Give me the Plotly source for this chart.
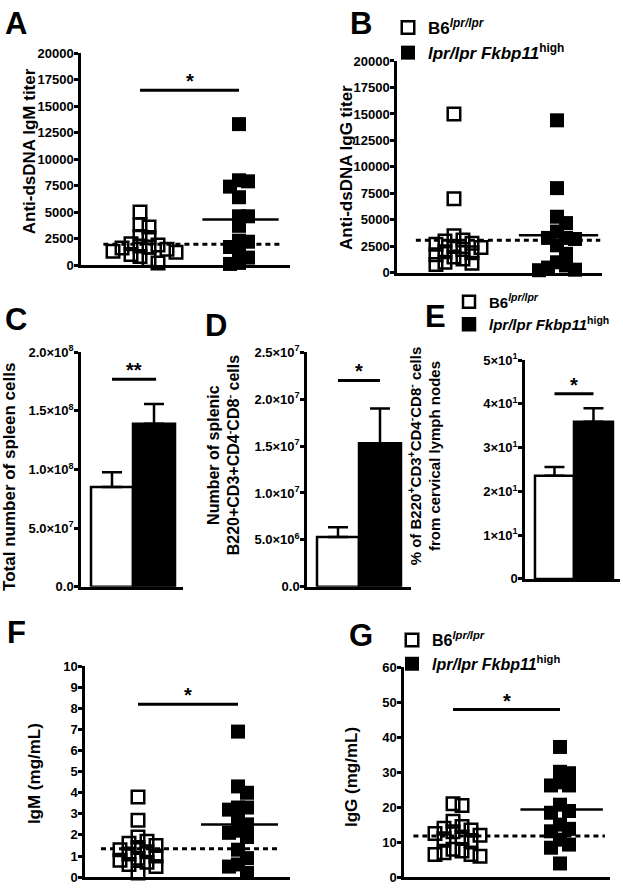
import numpy as np
import plotly.graph_objects as go

W, H = 623, 891
FONT = "Arial, Liberation Sans, sans-serif"

# ---------------- data ----------------
groups = ["B6<sup><i>lpr/lpr</i></sup>", "<i>lpr/lpr Fkbp11</i><sup>high</sup>"]

# A: anti-dsDNA IgM titer
igm_titer_b6 = [5000, 3800, 3600, 2700, 2600, 2000, 1900, 1800, 1700, 1600, 1500, 1300, 1200, 1000, 800, 500, 200]
igm_titer_fkbp = [13300, 8000, 7900, 7400, 6400, 4600, 4600, 3700, 2300, 2200, 1700, 1300, 700, 200, 100]
# B: anti-dsDNA IgG titer
igg_titer_b6 = [15000, 7000, 3500, 3100, 3000, 2800, 2700, 2500, 2400, 2200, 2000, 1900, 1700, 1500, 1300, 1000, 900, 800]
igg_titer_fkbp = [14400, 8000, 5300, 4700, 3900, 3300, 3300, 3200, 2600, 1800, 1000, 700, 500, 300, 250]
# C: total spleen cells (mean, SEM)
spleen_mean = [8.5e7, 1.39e8]
spleen_sem = [1.26e7, 1.7e7]
# D: splenic B220+CD3+CD4-CD8- cells
splenic_dn_mean = [5.3e6, 1.53e7]
splenic_dn_sem = [1.05e6, 3.7e6]
# E: % DN cells in cervical lymph nodes
lymph_dn_mean = [23.6, 35.9]
lymph_dn_sem = [2.0, 3.1]
# F: serum IgM (mg/mL)
igm_b6 = [3.8, 2.7, 1.9, 1.7, 1.6, 1.5, 1.4, 1.3, 1.2, 1.1, 1.0, 0.9, 0.8, 0.7, 0.6, 0.5, 0.2]
igm_fkbp = [6.9, 4.3, 4.0, 3.3, 3.2, 3.3, 2.7, 2.5, 2.2, 2.1, 1.9, 1.3, 0.9, 0.6, 0.5, 0.2]
# G: serum IgG (mg/mL)
igg_b6 = [21, 20.5, 16, 14.5, 14, 13.5, 13, 12.5, 12, 11.5, 11, 10.5, 8, 7.5, 7, 6.5, 6.5, 6]
igg_fkbp = [37.2, 30.1, 29.7, 27.1, 26.2, 26.2, 20.7, 18.9, 18.4, 15.0, 13.8, 13.1, 10.7, 9.3, 8.4, 3.9]

# tick labels
titer_ticks = [0, 2500, 5000, 7500, 10000, 12500, 15000, 17500, 20000]
titer_ticktext = [str(v) for v in titer_ticks]
spleen_ticks = [0, 5e7, 1e8, 1.5e8, 2e8]
spleen_ticktext = ["0.0", "5.0×10<sup>7</sup>", "1.0×10<sup>8</sup>", "1.5×10<sup>8</sup>", "2.0×10<sup>8</sup>"]
splenic_ticks = [0, 5e6, 1e7, 1.5e7, 2e7, 2.5e7]
splenic_ticktext = ["0.0", "5.0×10<sup>6</sup>", "1.0×10<sup>7</sup>", "1.5×10<sup>7</sup>",
                    "2.0×10<sup>7</sup>", "2.5×10<sup>7</sup>"]
lymph_ticks = [0, 10, 20, 30, 40, 50]
lymph_ticktext = ["0", "1×10<sup>1</sup>", "2×10<sup>1</sup>", "3×10<sup>1</sup>", "4×10<sup>1</sup>", "5×10<sup>1</sup>"]
igm_ticks = list(range(0, 11))
igm_ticktext = [str(v) for v in igm_ticks]
igg_ticks = [0, 10, 20, 30, 40, 50, 60]
igg_ticktext = [str(v) for v in igg_ticks]

# ---------------- layout geometry (pixels) ----------------
def xdom(a, b):
    return [a / W, b / W]

def ydom(top, bot):
    return [1 - bot / H, 1 - top / H]

fig = go.Figure()
BF = dict(family=FONT, color="black", weight="bold")


def refs(i):
    s = "" if i == 1 else str(i)
    return "x" + s, "y" + s, "xaxis" + s, "yaxis" + s


def swarm(vals, px_per_y, px_per_x, step=9.0):
    vals = np.asarray(vals, float)
    order = np.argsort(-vals, kind="stable")
    placed = []
    offs = np.zeros(len(vals))
    cands = [0]
    for j in range(1, 40):
        cands += [j, -j]
    for i in order:
        y = vals[i] * px_per_y
        for c in cands:
            x = c * step
            if all(abs(x - px) >= step or abs(y - py) >= step for px, py in placed):
                break
        placed.append((x, y))
        offs[i] = x / px_per_x
    return offs


def axes(i, xpx, ypx, xr, yr, tickvals, ticktext):
    xr_, yr_, xa, ya = refs(i)
    fig.layout[xa] = dict(domain=xdom(*xpx), range=xr, anchor=yr_, showline=True, linecolor="black",
                          linewidth=2.5, showgrid=False, zeroline=False, showticklabels=False,
                          ticks="", fixedrange=True)
    fig.layout[ya] = dict(domain=ydom(*ypx), range=yr, anchor=xr_, showline=True, linecolor="black",
                          linewidth=2.5, showgrid=False, zeroline=False, ticks="outside", ticklen=4,
                          tickwidth=2.5, tickcolor="black", tickvals=tickvals,
                          ticktext=["<b>%s</b>" % t for t in ticktext], ticklabelstandoff=-2,
                          tickfont=dict(size=13, **BF), fixedrange=True)


def sig(i, level, text, x0=0, x1=1):
    xr_, yr_, xa, ya = refs(i)
    fig.add_shape(type="line", xref=xr_, yref=yr_ + " domain", x0=x0, x1=x1, y0=level, y1=level,
                  line=dict(color="black", width=3))
    fig.add_annotation(xref=xr_, yref=yr_ + " domain", x=(x0 + x1) / 2, y=level, text=text,
                       showarrow=False, yanchor="bottom", yshift=-4, font=dict(size=20, **BF))


def dot_panel(i, b6, fk, xpx, ypx, xr, ymax, tickvals, ticktext, legend=None):
    xr_, yr_, xa, ya = refs(i)
    axes(i, xpx, ypx, xr, [0, ymax], tickvals, ticktext)
    ppy = (ypx[1] - ypx[0]) / ymax
    ppx = (xpx[1] - xpx[0]) / (xr[1] - xr[0])
    for k, (vals, sym, size, lw) in enumerate([(b6, "square-open", 12.5, 2.5), (fk, "square", 14, 0)]):
        off = swarm(vals, ppy, ppx)
        fig.add_trace(go.Scatter(
            x=k + off, y=vals, mode="markers", xaxis=xr_, yaxis=yr_, cliponaxis=False,
            name=groups[k], showlegend=legend is not None, legend=legend or "legend",
            marker=dict(symbol=sym, size=size, color="black", line=dict(width=lw, color="black"))))
    m0, m1 = float(np.mean(b6)), float(np.mean(fk))
    fig.add_trace(go.Scatter(x=[-0.37, 1.42], y=[m0, m0], mode="lines", xaxis=xr_, yaxis=yr_,
                             showlegend=False, cliponaxis=False,
                             line=dict(color="black", width=3, dash="5px,4px")))
    fig.add_trace(go.Scatter(x=[0.63, 1.40], y=[m1, m1], mode="lines", xaxis=xr_, yaxis=yr_,
                             showlegend=False, cliponaxis=False, line=dict(color="black", width=2.5)))


def bar_panel(i, means, sems, xpx, ypx, xr, ymax, tickvals, ticktext, legend=None):
    xr_, yr_, xa, ya = refs(i)
    axes(i, xpx, ypx, xr, [0, ymax], tickvals, ticktext)
    for k, col in enumerate(["white", "black"]):
        fig.add_trace(go.Bar(
            x=[k], y=[means[k]], width=1, xaxis=xr_, yaxis=yr_, name=groups[k],
            showlegend=legend is not None, legend=legend or "legend",
            marker=dict(color=col, line=dict(color="black", width=2.5)),
            error_y=dict(type="data", symmetric=False, array=[sems[k]], arrayminus=[0],
                         color="black", thickness=2.5, width=10)))


# A
dot_panel(1, igm_titer_b6, igm_titer_fkbp, (81, 290), (45, 261), [-0.596, 1.515], 20000,
          titer_ticks, titer_ticktext)
sig(1, 0.825, "*")
# B
dot_panel(2, igg_titer_b6, igg_titer_fkbp, (397, 602), (53, 269), [-0.553, 1.437], 20000,
          titer_ticks, titer_ticktext, legend="legend")
# C
bar_panel(3, spleen_mean, spleen_sem, (81, 183), (350, 589), [-0.738, 1.69], 2e8, spleen_ticks, spleen_ticktext)
sig(3, 0.885, "**", 0, 1.05)
# D
bar_panel(4, splenic_dn_mean, splenic_dn_sem, (307, 411), (350, 589), [-0.738, 1.738], 2.5e7,
          splenic_ticks, splenic_ticktext)
sig(4, 0.88, "*")
# E
bar_panel(5, lymph_dn_mean, lymph_dn_sem, (525, 620), (358, 581), [-0.756, 1.68], 50,
          lymph_ticks, lymph_ticktext, legend="legend2")
sig(5, 0.846, "*")
# F
dot_panel(6, igm_b6, igm_fkbp, (85, 290), (670, 885), [-0.53, 1.52], 10, igm_ticks, igm_ticktext)
sig(6, 0.82, "*")
# G
dot_panel(7, igg_b6, igg_fkbp, (404, 610), (671, 885), [-0.458, 1.467], 60, igg_ticks, igg_ticktext,
          legend="legend3")
sig(7, 0.798, "*")

# panel letters
for letter, px, py in [("A", 3, 15), ("B", 348, 15), ("C", 3, 317), ("D", 203, 323),
                       ("E", 423, 313), ("F", 5, 636), ("G", 347, 639)]:
    fig.add_annotation(xref="paper", yref="paper", x=px / W, y=1 - py / H, text=letter, showarrow=False,
                       xanchor="left", yanchor="middle", font=dict(size=31, **BF))

# axis titles
for text, px, py, size in [
    ("Anti-dsDNA IgM titer", 29, 145, 17),
    ("Anti-dsDNA IgG titer", 347, 162, 17),
    ("Total number of spleen cells", 10, 477, 17),
    ("Number of splenic<br>B220+CD3+CD4<sup>-</sup>CD8<sup>-</sup> cells", 224, 455, 16),
    ("% of B220<sup>+</sup>CD3<sup>+</sup>CD4<sup>-</sup>CD8<sup>-</sup> cells<br>from cervical lymph nodes",
     424, 456, 15),
    ("IgM (mg/mL)", 34, 780, 17),
    ("IgG (mg/mL)", 351, 783, 17),
]:
    fig.add_annotation(xref="paper", yref="paper", x=px / W, y=1 - py / H, text=text, showarrow=False,
                       textangle=-90, xanchor="center", yanchor="middle", font=dict(size=size, **BF))

leg = dict(bgcolor="rgba(0,0,0,0)", borderwidth=0, xanchor="left", yanchor="top",
           font=dict(size=17, **BF), itemclick=False, itemdoubleclick=False, tracegroupgap=0)
fig.update_layout(
    width=W, height=H, autosize=False, margin=dict(l=0, r=0, t=0, b=0),
    paper_bgcolor="white", plot_bgcolor="white", barmode="overlay", showlegend=True,
    legend=dict(x=388 / W, y=1 - 1 / H, **leg),
    legend2=dict(x=449 / W, y=1 - 282 / H, **{**leg, "font": dict(size=15, **BF)}),
    legend3=dict(x=392 / W, y=1 - 626 / H, **{**leg, "font": dict(size=16, **BF)}),
)

fig.write_html("out.html", config={"displayModeBar": False},
               post_script="document.body.style.margin='0';document.body.style.overflow='hidden';")
